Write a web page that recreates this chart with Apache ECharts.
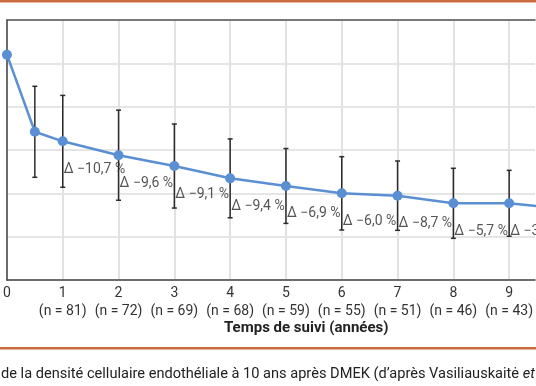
<!DOCTYPE html>
<html><head><meta charset="utf-8">
<script src="https://cdn.jsdelivr.net/npm/echarts@6/dist/echarts.min.js"></script>
<style>html,body{margin:0;padding:0;background:#fff}#c{width:536px;height:386px}</style>
</head><body><div id="c"></div>
<script>
var years = [0, 0.5, 1, 2, 3, 4, 5, 6, 7, 8, 9, 10];
var meanECD = [2600, 1710, 1600, 1440, 1315, 1173, 1085, 1000, 973, 885, 885, 820];
var sdECD = [null, 525, 530, 520, 485, 455, 432, 423, 400, 404, 380, 370];
var tickYears = [0, 1, 2, 3, 4, 5, 6, 7, 8, 9, 10];
var nCounts = ['', '81', '72', '69', '68', '59', '55', '51', '46', '43', '40'];
var deltaYears = [1, 2, 3, 4, 5, 6, 7, 8, 9];
var deltaLabels = ['Δ −10,7 %', 'Δ −9,6 %', 'Δ −9,1 %', 'Δ −9,4 %', 'Δ −6,9 %', 'Δ −6,0 %', 'Δ −8,7 %', 'Δ −5,7 %', 'Δ −3,5 %'];
var axisTitle = 'Temps de suivi (années)';
var captionText = 'de la densité cellulaire endothéliale à 10 ans après DMEK (d’après Vasiliauskaitė ';
var captionItalic = 'et al.)';
// visible window of the x axis (the figure is cropped at the right)
var xVisibleMax = 9.464;

var FONT = 'Roboto, "Noto Sans", sans-serif';
var lineData = years.map(function (x, i) { return [x, meanECD[i]]; });
var errData = [];
years.forEach(function (x, i) {
  if (sdECD[i] != null) errData.push([x, meanECD[i] - sdECD[i], meanECD[i] + sdECD[i]]);
});
var labelData = deltaYears.map(function (y, i) {
  return { value: [y, meanECD[years.indexOf(y)]], name: deltaLabels[i] };
});

var chart = echarts.init(document.getElementById('c'), null, { renderer: 'canvas' });
chart.setOption({
  animation: false,
  textStyle: { fontFamily: FONT },
  grid: { left: 6, top: 20, right: 0, bottom: 106, show: false, containLabel: false },
  xAxis: [{
    type: 'value', min: 0, max: xVisibleMax, interval: 1,
    axisLine: { show: true, lineStyle: { color: '#444', width: 1.5 } },
    axisTick: { show: false },
    splitLine: { show: true, showMaxLine: false, lineStyle: { color: '#e2e2e2', width: 2 } },
    axisLabel: {
      margin: 4, color: '#333', fontSize: 14, lineHeight: 18, fontFamily: FONT,
      showMaxLabel: false,
      formatter: function (v) {
        var i = tickYears.indexOf(v);
        if (i < 0) return '';
        if (i === 0) return String(v);
        return v + '\n(n = ' + nCounts[i] + ')';
      }
    }
  }, {
    type: 'value', position: 'top', min: 0, max: xVisibleMax,
    axisLine: { show: true, lineStyle: { color: '#555', width: 1.5 } },
    axisTick: { show: false }, axisLabel: { show: false }, splitLine: { show: false }
  }],
  yAxis: {
    type: 'value', min: 0, max: 3000, interval: 500,
    axisLine: { show: true, lineStyle: { color: '#444', width: 1.5 } },
    axisTick: { show: false },
    axisLabel: { show: false },
    splitLine: { show: true, lineStyle: { color: '#dcdcdc', width: 1.5 } }
  },
  series: [
    {
      type: 'custom', z: 2, clip: false,
      data: errData,
      renderItem: function (params, api) {
        var x = api.value(0);
        var lo = api.coord([x, api.value(1)]);
        var hi = api.coord([x, api.value(2)]);
        var s = { stroke: '#2b2b2b', lineWidth: 1.5 };
        return { type: 'group', children: [
          { type: 'line', shape: { x1: lo[0], y1: lo[1], x2: hi[0], y2: hi[1] }, style: s },
          { type: 'line', shape: { x1: lo[0] - 2.5, y1: lo[1], x2: lo[0] + 2.5, y2: lo[1] }, style: s },
          { type: 'line', shape: { x1: hi[0] - 2.5, y1: hi[1], x2: hi[0] + 2.5, y2: hi[1] }, style: s }
        ]};
      }
    },
    {
      type: 'line', z: 3, data: lineData, clip: false,
      symbol: 'circle', symbolSize: 10,
      lineStyle: { color: '#5b8fd4', width: 2.5 },
      itemStyle: { color: '#5b8fd4' }
    },
    {
      type: 'scatter', z: 4, data: labelData, symbolSize: 0, clip: false,
      label: {
        show: true, position: 'right', distance: 1, offset: [0, 28],
        formatter: function (p) { return p.name; },
        color: '#2a2a2a', fontSize: 14, fontFamily: FONT
      }
    }
  ],
  graphic: [
    { type: 'rect', shape: { x: 0, y: 0, width: 536, height: 2.5 }, style: { fill: '#c8693f' } },
    { type: 'rect', shape: { x: 0, y: 347, width: 536, height: 2.5 }, style: { fill: '#c8693f' } },
    { type: 'text', left: 224, top: 321, style: { text: axisTitle, font: 'bold 15px ' + FONT, fill: '#222' } },
    { type: 'text', left: 1, top: 367, style: {
        text: '{a|' + captionText + '}{b|' + captionItalic + '}',
        rich: {
          a: { font: '14.6px ' + FONT, fill: '#222' },
          b: { font: 'italic 14.6px ' + FONT, fill: '#222' }
        }
      } }
  ]
});
</script></body></html>
